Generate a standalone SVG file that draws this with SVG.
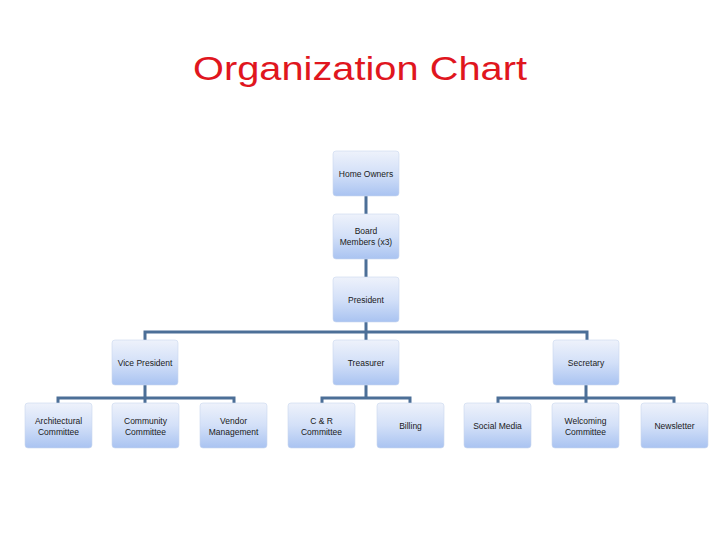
<svg xmlns="http://www.w3.org/2000/svg" width="720" height="540" viewBox="0 0 720 540">
<defs>
<linearGradient id="g" x1="0" y1="0" x2="0" y2="1">
<stop offset="0" stop-color="#eef2fb"/>
<stop offset="0.5" stop-color="#d3e0f8"/>
<stop offset="1" stop-color="#a9c3f1"/>
</linearGradient>
</defs>
<style>
.box{fill:url(#g);stroke:#c9d6ee;stroke-width:0.6}
.t{font-family:"Liberation Sans",Arial,sans-serif;font-size:8.5px;fill:#1a1a1a;text-anchor:middle}
.c{fill:none;stroke:#4c6f97;stroke-width:3}
.title{font-family:"Liberation Sans",Arial,sans-serif;font-size:34px;fill:#e0161e;text-anchor:middle}
</style>
<rect width="720" height="540" fill="#ffffff"/>
<text class="title" x="360" y="80" textLength="334" lengthAdjust="spacingAndGlyphs">Organization Chart</text>
<g id="connectors">
<path class="c" d="M366 196V214M366 259V277M366 322V340"/>
<path class="c" d="M145 340V332H587V340"/>
<path class="c" d="M145 385V403M58 403V398H234V403"/>
<path class="c" d="M366 385V398M322 403V398H410V403"/>
<path class="c" d="M586 385V403M498 403V398H674V403"/>
</g>
<g id="home-owners"><rect class="box" x="333" y="151" width="66" height="45" rx="3"/><text class="t" x="366" y="176.5">Home Owners</text></g>
<g id="board-members"><rect class="box" x="333" y="214" width="66" height="45" rx="3"/><text class="t" x="366" y="233.5">Board</text><text class="t" x="366" y="244.5">Members (x3)</text></g>
<g id="president"><rect class="box" x="333" y="277" width="66" height="45" rx="3"/><text class="t" x="366" y="302.5">President</text></g>
<g id="vice-president"><rect class="box" x="112" y="340" width="66" height="45" rx="3"/><text class="t" x="145" y="365.5">Vice President</text></g>
<g id="treasurer"><rect class="box" x="333" y="340" width="66" height="45" rx="3"/><text class="t" x="366" y="365.5">Treasurer</text></g>
<g id="secretary"><rect class="box" x="553" y="340" width="66" height="45" rx="3"/><text class="t" x="586" y="365.5">Secretary</text></g>
<g id="architectural"><rect class="box" x="25" y="403" width="67" height="45" rx="3"/><text class="t" x="58.5" y="423.5">Architectural</text><text class="t" x="58.5" y="434.5">Committee</text></g>
<g id="community"><rect class="box" x="112" y="403" width="67" height="45" rx="3"/><text class="t" x="145.5" y="423.5">Community</text><text class="t" x="145.5" y="434.5">Committee</text></g>
<g id="vendor"><rect class="box" x="200" y="403" width="67" height="45" rx="3"/><text class="t" x="233.5" y="423.5">Vendor</text><text class="t" x="233.5" y="434.5">Management</text></g>
<g id="cr-committee"><rect class="box" x="288" y="403" width="67" height="45" rx="3"/><text class="t" x="321.5" y="423.5">C &amp; R</text><text class="t" x="321.5" y="434.5">Committee</text></g>
<g id="billing"><rect class="box" x="377" y="403" width="67" height="45" rx="3"/><text class="t" x="410.5" y="428.5">Billing</text></g>
<g id="social-media"><rect class="box" x="464" y="403" width="67" height="45" rx="3"/><text class="t" x="497.5" y="428.5">Social Media</text></g>
<g id="welcoming"><rect class="box" x="552" y="403" width="67" height="45" rx="3"/><text class="t" x="585.5" y="423.5">Welcoming</text><text class="t" x="585.5" y="434.5">Committee</text></g>
<g id="newsletter"><rect class="box" x="641" y="403" width="67" height="45" rx="3"/><text class="t" x="674.5" y="428.5">Newsletter</text></g>
</svg>
